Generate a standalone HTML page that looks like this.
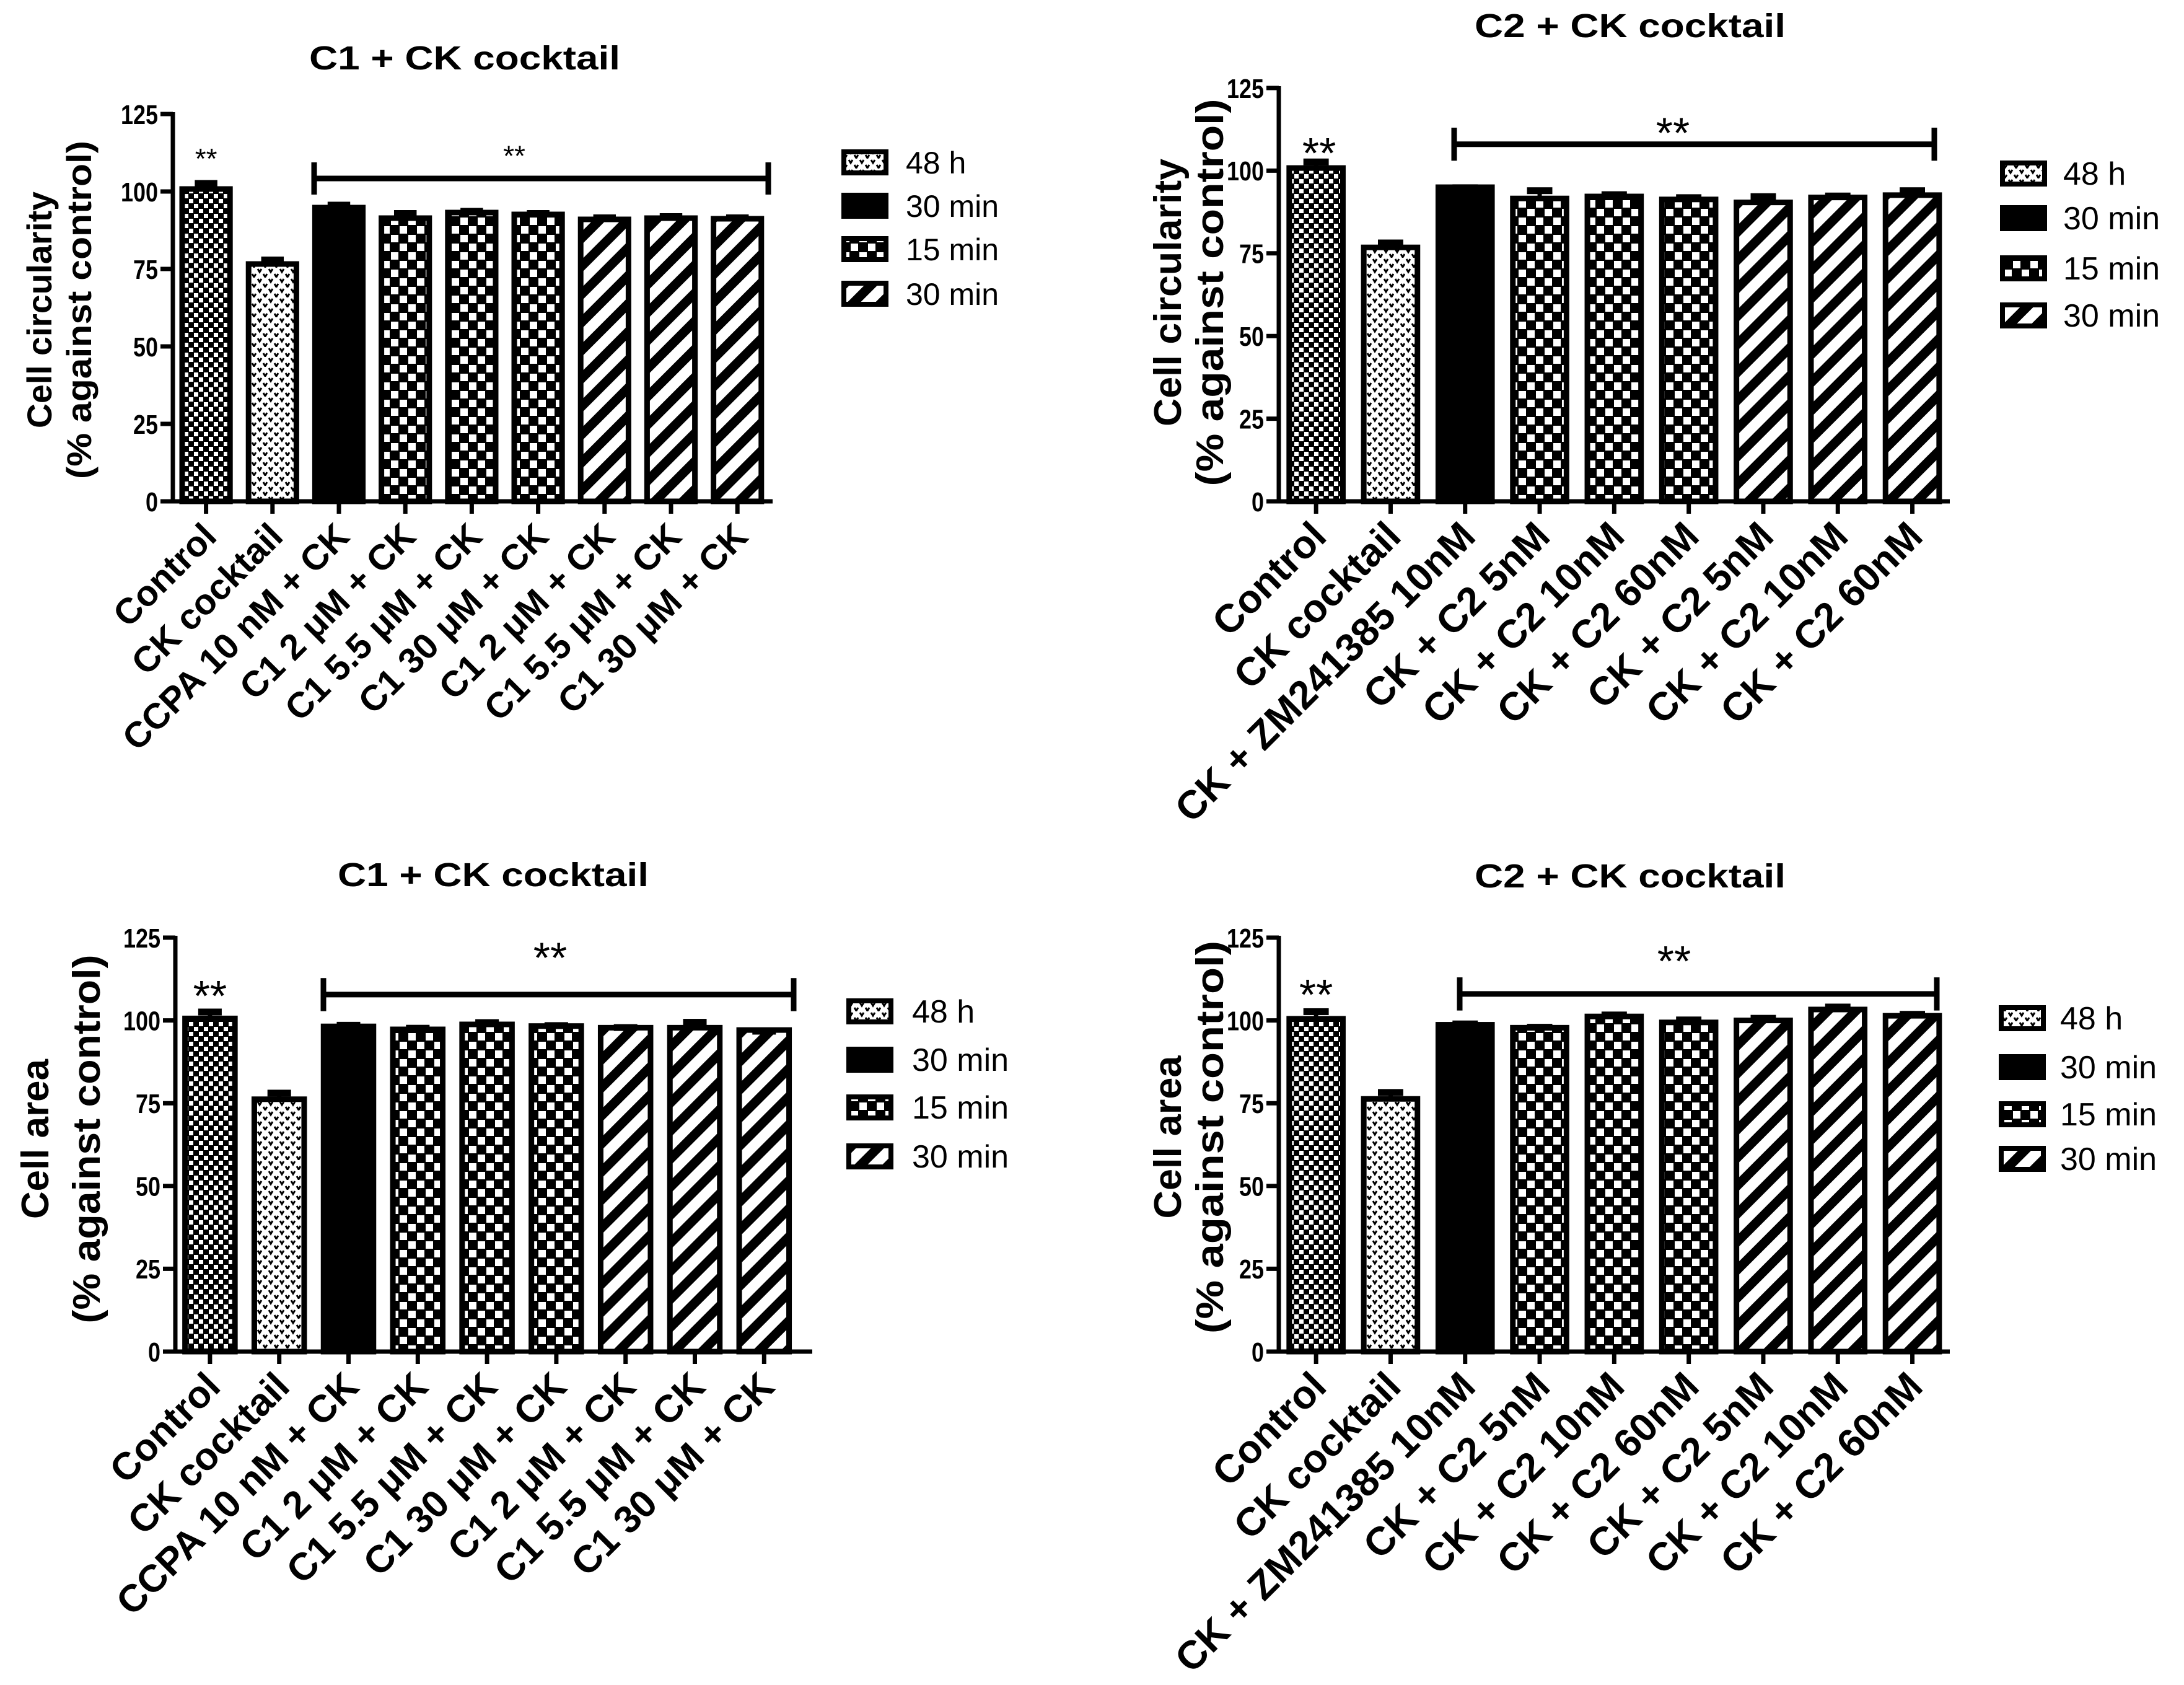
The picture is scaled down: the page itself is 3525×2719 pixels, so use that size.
<!DOCTYPE html>
<html><head><meta charset="utf-8"><style>
html,body{margin:0;padding:0;background:#fff;}
svg{display:block;}
.nar{font-family:"Liberation Sans Narrow","Liberation Sans",Arial,sans-serif;}
.wide{font-family:"Liberation Sans",Arial,sans-serif;}
</style></head><body>
<svg id="fig" xmlns="http://www.w3.org/2000/svg" width="3525" height="2719" viewBox="0 0 3525 2719">
<defs>
<pattern id="pCtrl" patternUnits="userSpaceOnUse" width="16" height="16"><rect width="16" height="16" fill="#000"/><rect x="1" y="1" width="7" height="7" fill="#fff"/><rect x="9" y="9" width="7" height="7" fill="#fff"/></pattern>
<pattern id="pDots" patternUnits="userSpaceOnUse" width="18" height="16"><rect width="18" height="16" fill="#fff"/><path d="M2 2 L5 7 L8 2 M11 10 L14 15 L17 10" stroke="#000" stroke-width="3" fill="none"/></pattern>
<pattern id="pCheck" patternUnits="userSpaceOnUse" width="28" height="28"><rect width="28" height="28" fill="#000"/><rect x="1" y="1" width="12" height="12" fill="#fff"/><rect x="15" y="15" width="12" height="12" fill="#fff"/></pattern>
<pattern id="pStripe" patternUnits="userSpaceOnUse" width="32" height="32" patternTransform="rotate(45)"><rect width="32" height="32" fill="#fff"/><rect width="15" height="32" fill="#000"/></pattern>
</defs>
<g id="root"></g>
</svg>
<script>
// ---- data (top-left: circularity C1) ----
const tlCategories = ["Control","CK cocktail","CCPA 10 nM + CK","C1 2 \u03BCM + CK","C1 5.5 \u03BCM + CK","C1 30 \u03BCM + CK","C1 2 \u03BCM + CK","C1 5.5 \u03BCM + CK","C1 30 \u03BCM + CK"];
const tlValues = [100.8, 76.6, 94.8, 91.4, 93.2, 92.6, 91.0, 91.4, 91.2];
const tlErrors = [2.5, 2.0, 1.5, 2.2, 1.1, 1.0, 1.2, 1.2, 1.0];
// ---- data (top-right: circularity C2) ----
const trCategories = ["Control","CK cocktail","CK +  ZM241385 10nM","CK + C2 5nM","CK + C2 10nM","CK + C2 60nM","CK + C2 5nM","CK + C2 10nM","CK + C2 60nM"];
const trValues = [100.8, 76.8, 95.0, 91.6, 92.2, 91.3, 90.4, 91.9, 92.6];
const trErrors = [2.5, 2.0, 0.5, 3.0, 1.2, 1.2, 2.4, 1.1, 2.0];
// ---- data (bottom-left: area C1) ----
const blCategories = tlCategories;
const blValues = [100.6, 76.2, 98.2, 97.3, 98.8, 98.3, 97.8, 97.8, 97.1];
const blErrors = [2.6, 2.5, 1.0, 1.0, 1.2, 0.8, 0.7, 2.3, 0.3];
// ---- data (bottom-right: area C2) ----
const brCategories = trCategories;
const brValues = [100.5, 76.3, 98.7, 97.8, 101.2, 99.4, 100.0, 103.3, 101.4];
const brErrors = [2.8, 2.6, 0.9, 0.8, 1.1, 1.4, 1.3, 1.4, 1.1];
const yTicks = [0, 25, 50, 75, 100, 125];
const legendLabels = ["48 h", "30 min", "15 min", "30 min"];
const barFills = ["pCtrl","pDots","black","pCheck","pCheck","pCheck","pStripe","pStripe","pStripe"];
const legendFills = ["pDots","black","pCheck","pStripe"];

const NS = "http://www.w3.org/2000/svg";
const root = document.getElementById("root");
function mk(tag, attrs, parent, txt) {
  const e = document.createElementNS(NS, tag);
  for (const k in attrs) e.setAttribute(k, attrs[k]);
  if (txt !== undefined) e.textContent = txt;
  (parent || root).appendChild(e);
  return e;
}
function fillOf(f) { return f === "black" ? "#000" : "url(#" + f + ")"; }

function drawPanel(p, cats, vals, errs) {
  const g = mk("g", {});
  
  
  const y = v => p.y0 - v * (p.y0 - p.y125) / 125;
  const x = i => p.ax + p.s * (0.5 + i);
  const bw = p.s * 0.72;
  const t = mk("text", {x: p.titleX, y: p.titleY, "text-anchor": "middle", "font-size": 54, "font-weight": "bold", class: "nar", textLength: 502, lengthAdjust: "spacingAndGlyphs"}, g, p.title);
  
  
  const yt = mk("text", {transform: "translate(" + p.yt1x + "," + p.ytY + ") rotate(-90)", "text-anchor": "middle", "font-size": p.ytFs, "font-weight": "bold", class: "wide", textLength: p.yt1L, lengthAdjust: "spacingAndGlyphs"}, g, p.yTitle);
  
  
  const yt2 = mk("text", {transform: "translate(" + p.yt2x + "," + p.ytY + ") rotate(-90)", "text-anchor": "middle", "font-size": p.ytFs, "font-weight": "bold", class: "wide", textLength: p.yt2L, lengthAdjust: "spacingAndGlyphs"}, g, "(% against control)");
  
  
  yTicks.forEach(v => {
    const tk = mk("line", {x1: p.ax - 20, x2: p.ax, y1: y(v), y2: y(v), stroke: "#000", "stroke-width": 7}, g);
    
    
    const s = String(v);
    const tl = mk("text", {x: p.ax - 24, y: y(v) + p.tickFs * 0.36, "text-anchor": "end", "font-size": p.tickFs, "font-weight": "bold", class: "nar", textLength: 20 * s.length, lengthAdjust: "spacingAndGlyphs"}, g, s);
    
    
  });
  vals.forEach((v, i) => {
    const r = mk("rect", {x: x(i) - bw / 2, y: y(v), width: bw, height: p.y0 - y(v), fill: fillOf(barFills[i]), stroke: "#000", "stroke-width": 9}, g);
    
    
    const ey = y(v + errs[i]);
    const st = mk("line", {x1: x(i), x2: x(i), y1: y(v), y2: ey, stroke: "#000", "stroke-width": 7}, g);
    
    
    const cap = mk("rect", {x: x(i) - p.s * 0.17, y: ey - 2, width: p.s * 0.34, height: 11, fill: "#000"}, g);
    
    
    const xt = mk("line", {x1: x(i), x2: x(i), y1: p.y0, y2: p.y0 + 20, stroke: "#000", "stroke-width": 7}, g);
    
    
    const ex = x(i) + 20, eyy = p.y0 + 60;
    const lab = mk("text", {transform: "translate(" + ex + "," + eyy + ") rotate(-45)", "text-anchor": "end", "font-size": p.xFs, "font-weight": "bold", class: "wide"}, g, cats[i]);
    
    
  });
  const ya = mk("line", {x1: p.ax, x2: p.ax, y1: p.y125 - 3, y2: p.y0 + 3, stroke: "#000", "stroke-width": 7}, g);
  
  
  const xa = mk("line", {x1: p.ax - 20, x2: p.axEnd, y1: p.y0, y2: p.y0, stroke: "#000", "stroke-width": 7}, g);
  
  
  const by = y(p.brV), bt = y(p.brV + p.brH), bb = y(p.brV - p.brH);
  const br = mk("path", {d: "M" + p.br1 + " " + bt + " V" + bb + " M" + p.br1 + " " + by + " H" + p.br2 + " M" + p.br2 + " " + bt + " V" + bb, stroke: "#000", "stroke-width": 9, fill: "none"}, g);
  
  
  const s1 = mk("text", {x: p.starX, y: y(p.starV) + p.starFs * 0.58, "text-anchor": "middle", "font-size": p.starFs, class: "wide"}, g, "**");
  
  
  const s2 = mk("text", {x: x(0) + p.cStarDx, y: y(p.cStarV) + p.starFs * 0.58, "text-anchor": "middle", "font-size": p.starFs, class: "wide"}, g, "**");
  
  
  legendLabels.forEach((lb, k) => {
    const cy = p.legY[k];
    const lbx = mk("rect", {x: p.legX, y: cy - 17, width: 68, height: 34, fill: fillOf(legendFills[k]), stroke: "#000", "stroke-width": 8}, g);
    
    
    const lt = mk("text", {x: p.legTX, y: cy + 18, "font-size": p.legFs, class: "nar"}, g, lb);
    
    
  });
}

drawPanel({name: "panel-circularity-c1", title: "C1 + CK cocktail", titleX: 750, titleY: 112,
  yTitle: "Cell circularity", yt1x: 83, yt2x: 147, ytY: 500, ytFs: 56, yt1L: 382, yt2L: 546,
  ax: 279, axEnd: 1247, s: 107.2, y0: 809, y125: 184, tickFs: 44, xFs: 58,
  brV: 104.2, brH: 5.2, br1: 507, br2: 1240, starX: 830, starV: 113.6, starFs: 46, cStarDx: 0, cStarV: 112.7,
  legX: 1362, legTX: 1462, legY: [262, 332, 402, 474], legFs: 50}, tlCategories, tlValues, tlErrors);

drawPanel({name: "panel-circularity-c2", title: "C2 + CK cocktail", titleX: 2631, titleY: 60,
  yTitle: "Cell circularity", yt1x: 1906, yt2x: 1974, ytY: 472, ytFs: 62, yt1L: 432, yt2L: 625,
  ax: 2064, axEnd: 3147, s: 120.3, y0: 809, y125: 142, tickFs: 44, xFs: 64,
  brV: 108.0, brH: 5.0, br1: 2347, br2: 3122, starX: 2700, starV: 114.5, starFs: 70, cStarDx: 5, cStarV: 108.4,
  legX: 3232, legTX: 3330, legY: [280, 352, 433, 509], legFs: 52}, trCategories, trValues, trErrors);

drawPanel({name: "panel-area-c1", title: "C1 + CK cocktail", titleX: 796, titleY: 1430,
  yTitle: "Cell area", yt1x: 78, yt2x: 161, ytY: 1838, ytFs: 62, yt1L: 258, yt2L: 595,
  ax: 283, axEnd: 1311, s: 111.8, y0: 2181, y125: 1513, tickFs: 44, xFs: 62,
  brV: 107.8, brH: 5.0, br1: 522, br2: 1281, starX: 888, starV: 122, starFs: 70, cStarDx: 0, cStarV: 110.5,
  legX: 1370, legTX: 1472, legY: [1632, 1710, 1787, 1866], legFs: 52}, blCategories, blValues, blErrors);

drawPanel({name: "panel-area-c2", title: "C2 + CK cocktail", titleX: 2631, titleY: 1432,
  yTitle: "Cell area", yt1x: 1906, yt2x: 1974, ytY: 1835, ytFs: 62, yt1L: 263, yt2L: 634,
  ax: 2064, axEnd: 3147, s: 120.3, y0: 2181, y125: 1513, tickFs: 44, xFs: 64,
  brV: 108.0, brH: 5.0, br1: 2356, br2: 3126, starX: 2702, starV: 121, starFs: 70, cStarDx: 0, cStarV: 110.9,
  legX: 3230, legTX: 3325, legY: [1643, 1722, 1798, 1870], legFs: 52}, brCategories, brValues, brErrors);
</script>
</body></html>
